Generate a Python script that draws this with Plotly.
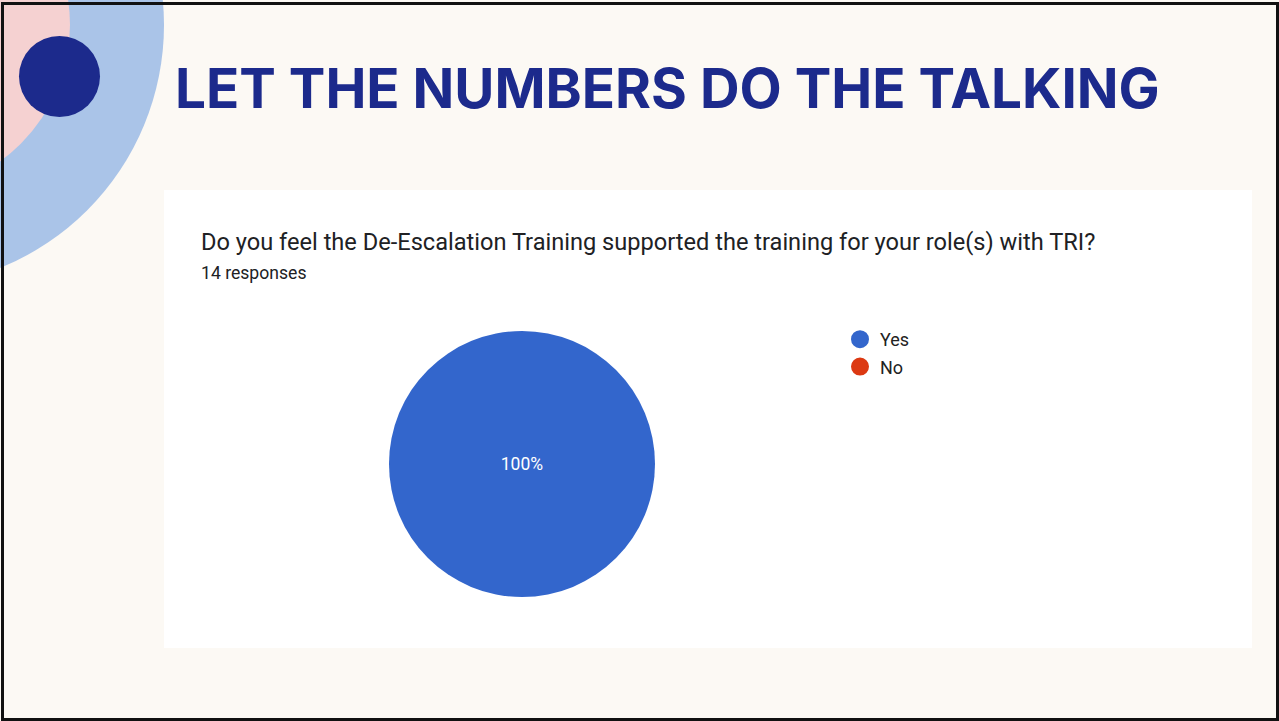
import plotly.graph_objects as go

W, H = 1279, 721

# ---- data ----
slide_title = "LET THE NUMBERS DO THE TALKING"
question = "Do you feel the De-Escalation Training supported the training for your role(s) with TRI?"
responses_note = "14 responses"
labels = ["Yes", "No"]
counts = [14, 0]
colors = ["#3366CC", "#DC3912"]


def px(x):
    return x / W


def py(y):
    return 1 - y / H


fig = go.Figure()

fig.add_trace(go.Pie(
    labels=labels, values=counts, sort=False, direction="clockwise",
    marker=dict(colors=colors, line=dict(width=0)),
    textinfo="percent", textposition="inside",
    insidetextfont=dict(family="Roboto", size=17.5, color="white"),
    showlegend=False, hoverinfo="label+percent",
    domain=dict(x=[px(389), px(655)], y=[py(597), py(331)]),
))

# legend entries (circle markers) tied to the same labels/colors
for i, (lab, col) in enumerate(zip(labels, colors)):
    fig.add_trace(go.Scatter(
        x=[None], y=[None], mode="markers", name=lab,
        marker=dict(color=col, size=16, symbol="circle", line=dict(color=col, width=2)),
        legendgroup=f"g{i}", showlegend=True,
    ))

shapes = [
    # big light-blue arc
    dict(type="circle", xref="paper", yref="paper",
         x0=px(-98 - 262), x1=px(-98 + 262), y0=py(25 + 262), y1=py(25 - 262),
         fillcolor="#AAC4E8", line=dict(width=0), layer="below"),
    # pink inner arc
    dict(type="circle", xref="paper", yref="paper",
         x0=px(-98 - 168), x1=px(-98 + 168), y0=py(25 + 168), y1=py(25 - 168),
         fillcolor="#F5D1D1", line=dict(width=0), layer="below"),
    # dark navy dot
    dict(type="circle", xref="paper", yref="paper",
         x0=px(19), x1=px(100), y0=py(117), y1=py(36),
         fillcolor="#1C2A8C", line=dict(width=0), layer="below"),
    # white card
    dict(type="rect", xref="paper", yref="paper",
         x0=px(164), x1=px(1252), y0=py(648), y1=py(190),
         fillcolor="white", line=dict(width=0), layer="below"),
    # slide border
    dict(type="rect", xref="paper", yref="paper",
         x0=px(2.5), x1=px(1277.5), y0=py(719.5), y1=py(3.5),
         fillcolor="rgba(0,0,0,0)", line=dict(color="#111111", width=3), layer="above"),
]

annotations = [
    dict(text=f"<b>{slide_title}</b>", xref="paper", yref="paper",
         x=px(173), y=py(88), xanchor="left", yanchor="middle", showarrow=False,
         font=dict(family="Inter", size=54.8, color="#1C2A8C", weight=900)),
    dict(text=question, xref="paper", yref="paper",
         x=px(199), y=py(242), xanchor="left", yanchor="middle", showarrow=False,
         font=dict(family="Roboto", size=23.6, color="#202124")),
    dict(text=responses_note, xref="paper", yref="paper",
         x=px(199), y=py(273), xanchor="left", yanchor="middle", showarrow=False,
         font=dict(family="Roboto", size=17.6, color="#202124")),
]

fig.update_layout(
    width=W, height=H, margin=dict(l=0, r=0, t=0, b=0),
    paper_bgcolor="#FCF9F4", plot_bgcolor="rgba(0,0,0,0)",
    xaxis=dict(visible=False), yaxis=dict(visible=False),
    shapes=shapes, annotations=annotations,
    legend=dict(x=px(840), y=py(321), xanchor="left", yanchor="top",
                font=dict(family="Roboto", size=18, color="#222222"),
                bgcolor="rgba(0,0,0,0)", tracegroupgap=1, itemwidth=30),
    showlegend=True,
)

fig.write_html("out.html", config={"displayModeBar": False},
               post_script="document.body.style.margin='0';document.body.style.overflow='hidden';")
